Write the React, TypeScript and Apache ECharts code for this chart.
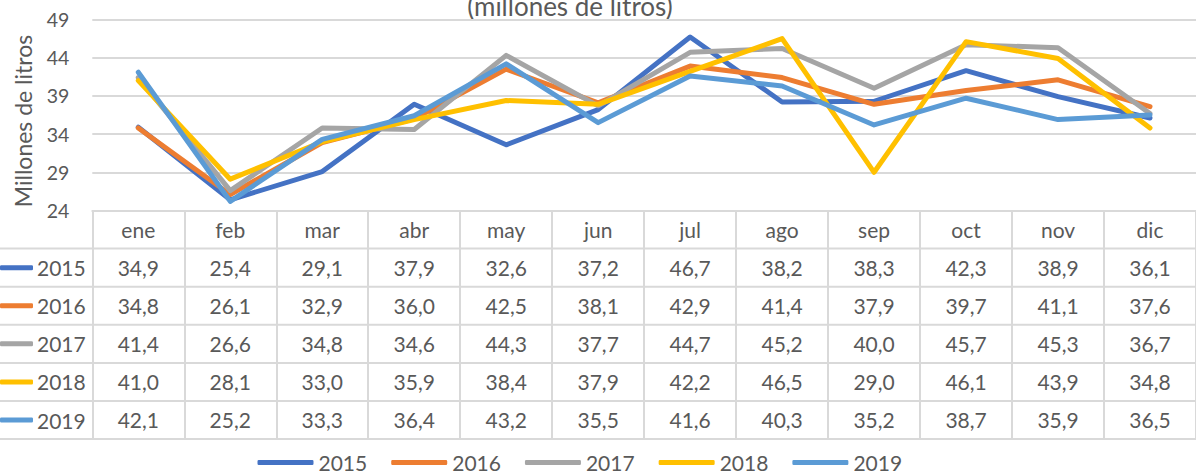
import React, { useEffect, useRef } from "react";
import * as echarts from "echarts";

const months = ["ene", "feb", "mar", "abr", "may", "jun", "jul", "ago", "sep", "oct", "nov", "dic"];
const years = ["2015", "2016", "2017", "2018", "2019"];
const v2015 = [34.9, 25.4, 29.1, 37.9, 32.6, 37.2, 46.7, 38.2, 38.3, 42.3, 38.9, 36.1];
const v2016 = [34.8, 26.1, 32.9, 36.0, 42.5, 38.1, 42.9, 41.4, 37.9, 39.7, 41.1, 37.6];
const v2017 = [41.4, 26.6, 34.8, 34.6, 44.3, 37.7, 44.7, 45.2, 40.0, 45.7, 45.3, 36.7];
const v2018 = [41.0, 28.1, 33.0, 35.9, 38.4, 37.9, 42.2, 46.5, 29.0, 46.1, 43.9, 34.8];
const v2019 = [42.1, 25.2, 33.3, 36.4, 43.2, 35.5, 41.6, 40.3, 35.2, 38.7, 35.9, 36.5];
const seriesValues = [v2015, v2016, v2017, v2018, v2019];
const colors = ["#4472C4", "#ED7D31", "#A5A5A5", "#FFC000", "#5B9BD5"];
const yTicks = { min: 24, max: 49, interval: 5 };
const titleText = "(millones de litros)";
const yName = "Millones de litros";

const FONT = "Lato, 'Open Sans', sans-serif";
const TXT = "#595959";
const LINE = "#d9d9d9";

export default function App() {
  const ref = useRef<HTMLDivElement>(null);
  useEffect(() => {
    if (!ref.current) return;
    const chart = echarts.init(ref.current, null, { renderer: "svg" });
    const gridTop = 19.5;
    const gridH = 191;
    const tableTop = gridTop + gridH;
    const rowH = 38.1;
    const fmt = (v: number) => v.toFixed(1).replace(".", ",");

    const xAxes: any[] = [
      {
        type: "category",
        data: months,
        gridIndex: 0,
        position: "bottom",
        boundaryGap: true,
        axisLine: { show: true, lineStyle: { color: LINE, width: 2 } },
        axisTick: { show: true, interval: 0, length: rowH * 6, inside: false, lineStyle: { color: LINE, width: 2 } },
        axisLabel: { interval: 0, margin: 8, fontSize: 21, color: TXT, fontFamily: FONT },
      },
    ];
    seriesValues.forEach((vals, i) => {
      xAxes.push({
        type: "category",
        data: months,
        gridIndex: 0,
        position: "bottom",
        offset: rowH * (i + 1),
        boundaryGap: true,
        axisLine: { show: false },
        axisTick: { show: false },
        axisLabel: {
          interval: 0,
          margin: 8,
          fontSize: 21,
          color: TXT,
          fontFamily: FONT,
          formatter: (_v: string, idx: number) => fmt(vals[idx]),
        },
      });
    });

    const hLines: any[] = [];
    for (let k = 1; k <= 6; k++) {
      hLines.push({
        type: "line",
        shape: { x1: 0, y1: tableTop + rowH * k, x2: 1196, y2: tableTop + rowH * k },
        style: { stroke: LINE, lineWidth: 2 },
        silent: true,
      });
    }

    chart.setOption({
      animation: false,
      grid: { left: 92.3, top: gridTop, width: 92.55 * 12, height: gridH, containLabel: false },
      xAxis: xAxes,
      yAxis: {
        type: "value",
        min: yTicks.min,
        max: yTicks.max,
        interval: yTicks.interval,
        axisLine: { show: false },
        axisTick: { show: false },
        splitLine: { lineStyle: { color: LINE, width: 2 } },
        axisLabel: { margin: 23, fontSize: 19.5, color: TXT, fontFamily: FONT },
      },
      legend: [
        {
          data: years,
          orient: "vertical",
          left: 0,
          top: tableTop + rowH,
          padding: 0,
          itemGap: 0,
          itemWidth: 33,
          itemHeight: 5,
          icon: "roundRect",
          selectedMode: false,
          textStyle: { fontSize: 21, color: TXT, fontFamily: FONT, lineHeight: rowH, padding: [0, 0, 0, -1] },
        },
        {
          data: years,
          orient: "horizontal",
          left: 257.5,
          top: 452,
          padding: 0,
          itemGap: 24,
          itemWidth: 56,
          itemHeight: 5,
          icon: "roundRect",
          selectedMode: false,
          textStyle: { fontSize: 21, color: TXT, fontFamily: FONT },
        },
      ],
      graphic: [
        ...hLines,
        {
          type: "text",
          x: 570,
          y: 6,
          style: { text: titleText, fontSize: 26, fill: TXT, fontFamily: FONT, align: "center", verticalAlign: "middle" },
        },
        {
          type: "text",
          x: 23,
          y: 121,
          rotation: Math.PI / 2,
          style: { text: yName, fontSize: 23, fill: TXT, fontFamily: FONT, align: "center", verticalAlign: "middle" },
        },
      ],
      series: seriesValues.map((vals, i) => ({
        type: "line",
        name: years[i],
        data: vals,
        xAxisIndex: 0,
        symbol: "none",
        color: colors[i],
        lineStyle: { width: 5, color: colors[i], cap: "round", join: "round" },
      })),
    });
    return () => chart.dispose();
  }, []);
  return <div ref={ref} style={{ position: "absolute", left: 0, top: 0, width: 1196, height: 471 }} />;
}
